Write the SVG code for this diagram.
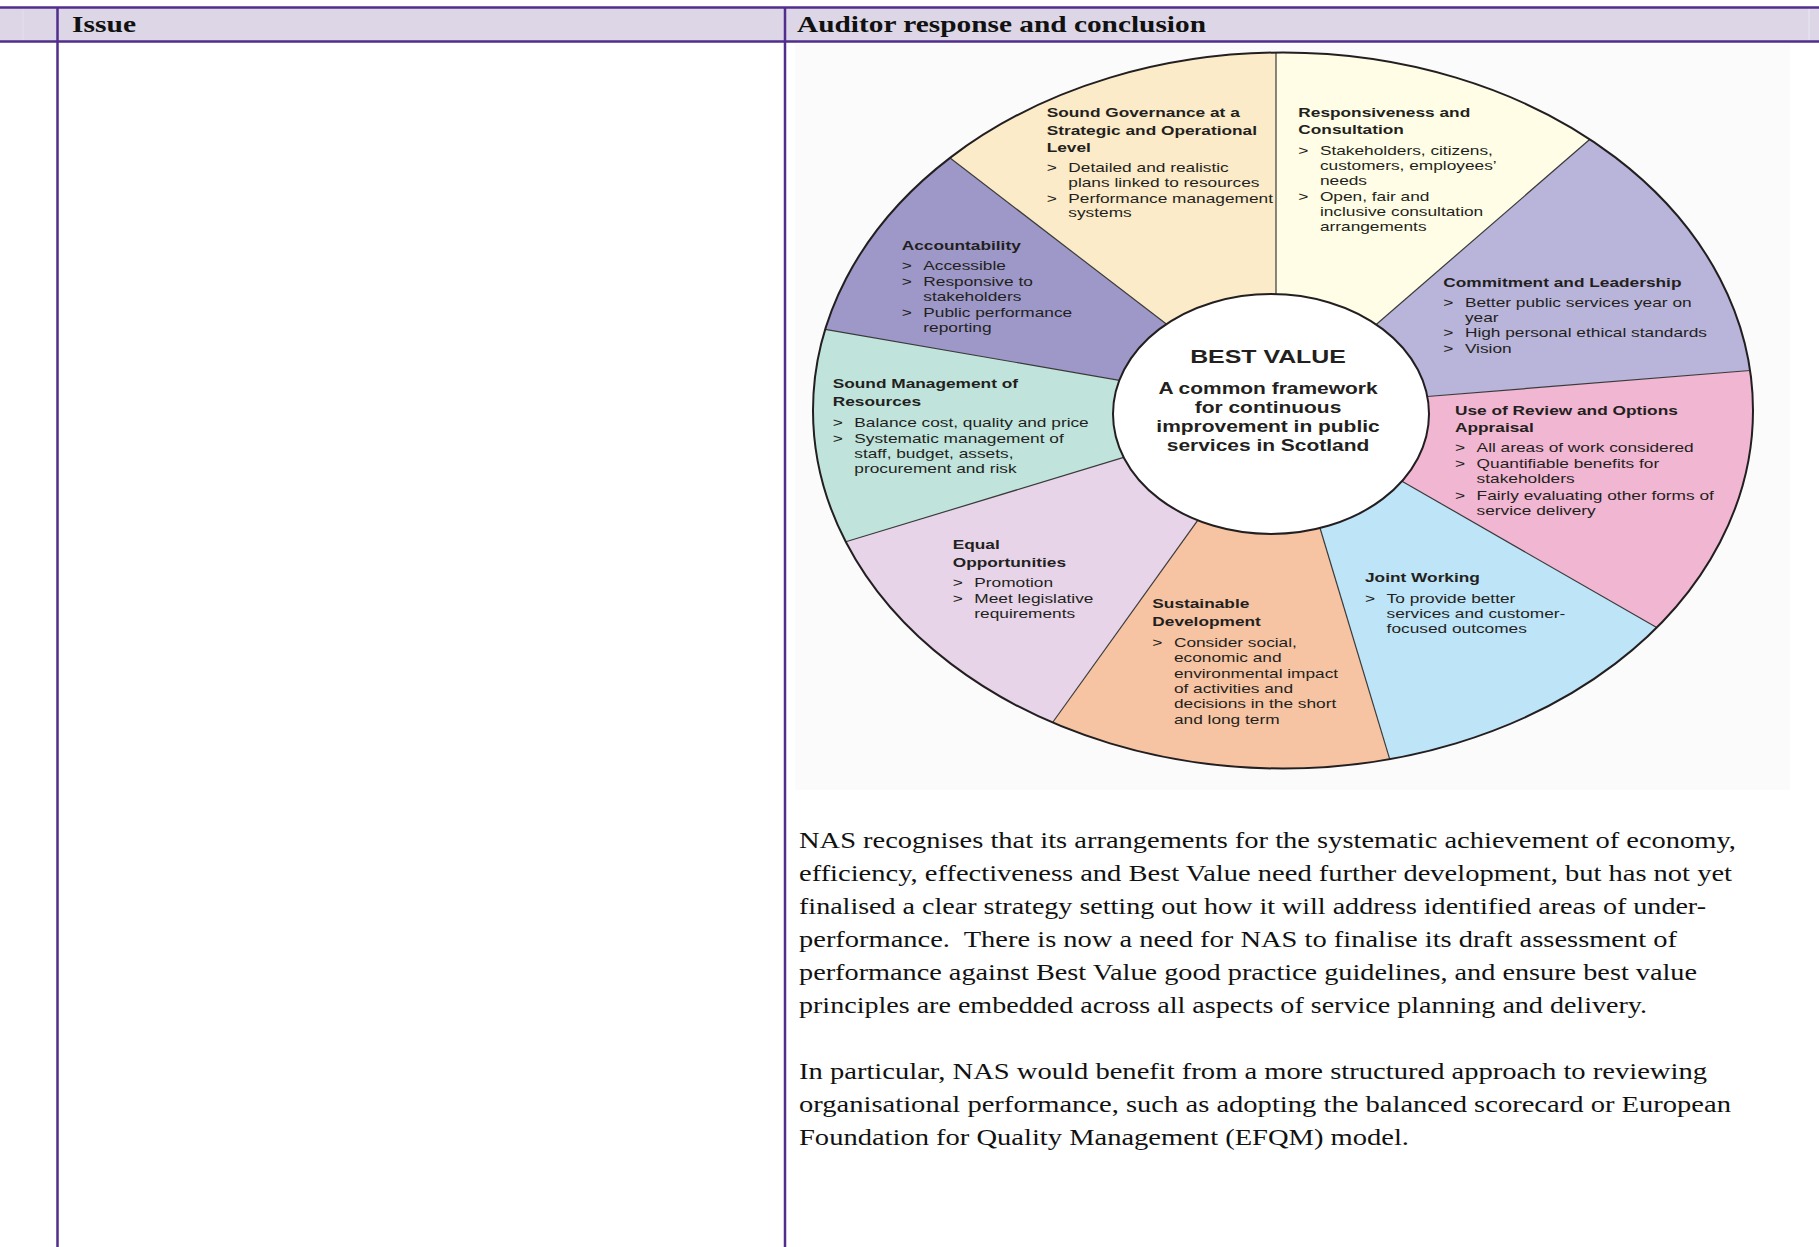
<svg xmlns="http://www.w3.org/2000/svg" width="1819" height="1247" viewBox="0 0 1819 1247">
<style>
.hdr{font-family:"Liberation Serif",serif;font-weight:bold;font-size:23px;fill:#111}
.body{font-family:"Liberation Serif",serif;font-size:24px;fill:#111}
.wt{font-family:"Liberation Sans",Arial,sans-serif;font-size:13.2px;fill:#231f20}
.wt .t{font-weight:bold}
.ctr{font-family:"Liberation Sans",Arial,sans-serif;font-weight:bold;fill:#231f20;text-anchor:middle}
.spoke{stroke:#3a3a3a;stroke-width:1.2;fill:none}
.tl{stroke:#512d8c;fill:none}
</style>
<rect x="0" y="0" width="1819" height="1247" fill="#ffffff"/>
<g id="table">
<rect x="0" y="7" width="1819" height="34" fill="#dcd6e7"/>
<line x1="23" y1="8" x2="23" y2="40" stroke="#e4dfed" stroke-width="1"/>
<line x1="1809" y1="8" x2="1809" y2="40" stroke="#ece8f2" stroke-width="1"/>
<rect x="795" y="44" width="995" height="746" fill="#fbfbfb"/>
<line class="tl" x1="0" y1="7.5" x2="1819" y2="7.5" stroke-width="2.5"/>
<line class="tl" x1="0" y1="41.5" x2="1819" y2="41.5" stroke-width="2.5"/>
<line class="tl" x1="57.5" y1="7" x2="57.5" y2="1247" stroke-width="2.5"/>
<line class="tl" x1="785" y1="7" x2="785" y2="1247" stroke-width="2.5"/>
<text class="hdr" x="72" y="32" textLength="64" lengthAdjust="spacingAndGlyphs">Issue</text>
<text class="hdr" x="797" y="32" textLength="409" lengthAdjust="spacingAndGlyphs">Auditor response and conclusion</text>
</g>
<g id="wheel">
<g id="responsiveness"><path d="M1276,294.1 L1276,52.5 A470,358 0 0 1 1589.9,139.3 L1376.2,324.5 A158,120 0 0 0 1276,294.1 Z" fill="#fffde5"/></g>
<g id="commitment"><path d="M1376.2,324.5 L1589.9,139.3 A470,358 0 0 1 1750,370.5 L1427.3,396.5 A158,120 0 0 0 1376.2,324.5 Z" fill="#b9b4da"/></g>
<g id="review"><path d="M1427.3,396.5 L1750,370.5 A470,358 0 0 1 1656.7,627.6 L1402,481.2 A158,120 0 0 0 1427.3,396.5 Z" fill="#f1b6d2"/></g>
<g id="joint"><path d="M1402,481.2 L1656.7,627.6 A470,358 0 0 1 1389.7,759.2 L1320,528 A158,120 0 0 0 1402,481.2 Z" fill="#bee4f8"/></g>
<g id="sustainable"><path d="M1320,528 L1389.7,759.2 A470,358 0 0 1 1052.6,722.5 L1197.7,520.3 A158,120 0 0 0 1320,528 Z" fill="#f7c4a3"/></g>
<g id="equal"><path d="M1197.7,520.3 L1052.6,722.5 A470,358 0 0 1 845.8,541.8 L1123.7,457.4 A158,120 0 0 0 1197.7,520.3 Z" fill="#e7d4e8"/></g>
<g id="soundmgmt"><path d="M1123.7,457.4 L845.8,541.8 A470,358 0 0 1 825.2,329.4 L1119.4,380.3 A158,120 0 0 0 1123.7,457.4 Z" fill="#c0e4dc"/></g>
<g id="accountability"><path d="M1119.4,380.3 L825.2,329.4 A470,358 0 0 1 950.1,158 L1166.3,324.1 A158,120 0 0 0 1119.4,380.3 Z" fill="#9d98c8"/></g>
<g id="governance"><path d="M1166.3,324.1 L950.1,158 A470,358 0 0 1 1276,52.5 L1276,294.1 A158,120 0 0 0 1166.3,324.1 Z" fill="#fcebc9"/></g>
<g id="spokes">
<line class="spoke" x1="1276" y1="294.1" x2="1276" y2="52.5" stroke-width="1.8"/>
<line class="spoke" x1="1376.2" y1="324.5" x2="1589.9" y2="139.3"/>
<line class="spoke" x1="1427.3" y1="396.5" x2="1750" y2="370.5"/>
<line class="spoke" x1="1402" y1="481.2" x2="1656.7" y2="627.6"/>
<line class="spoke" x1="1320" y1="528" x2="1389.7" y2="759.2"/>
<line class="spoke" x1="1197.7" y1="520.3" x2="1052.6" y2="722.5"/>
<line class="spoke" x1="1123.7" y1="457.4" x2="845.8" y2="541.8"/>
<line class="spoke" x1="1119.4" y1="380.3" x2="825.2" y2="329.4"/>
<line class="spoke" x1="1166.3" y1="324.1" x2="950.1" y2="158"/>
</g>
<ellipse cx="1283" cy="410.5" rx="470" ry="358" fill="none" stroke="#231f20" stroke-width="2"/>
<g id="center">
<ellipse cx="1271" cy="414" rx="158" ry="120" fill="#ffffff" stroke="#231f20" stroke-width="2"/>
<text class="ctr" transform="translate(1268,0) scale(1.31,1)" font-size="19"><tspan x="0" y="363.5">BEST VALUE</tspan></text>
<text class="ctr" transform="translate(1268,0) scale(1.31,1)" font-size="16"><tspan x="0" y="394">A common framework</tspan><tspan x="0" y="413.3">for continuous</tspan><tspan x="0" y="432">improvement in public</tspan><tspan x="0" y="451">services in Scotland</tspan></text>
</g>
<g id="labels">
<text class="wt" transform="translate(1046.7,0) scale(1.31,1)"><tspan class="t" x="0" y="117.5">Sound Governance at a</tspan><tspan class="t" x="0" y="134.8">Strategic and Operational</tspan><tspan class="t" x="0" y="152">Level</tspan><tspan x="0" y="172.5">&gt;</tspan><tspan x="16.5" y="172.5">Detailed and realistic</tspan><tspan x="16.5" y="187.5">plans linked to resources</tspan><tspan x="0" y="203">&gt;</tspan><tspan x="16.5" y="203">Performance management</tspan><tspan x="16.5" y="217.5">systems</tspan></text>
<text class="wt" transform="translate(1298.3,0) scale(1.31,1)"><tspan class="t" x="0" y="116.7">Responsiveness and</tspan><tspan class="t" x="0" y="134">Consultation</tspan><tspan x="0" y="155">&gt;</tspan><tspan x="16.5" y="155">Stakeholders, citizens,</tspan><tspan x="16.5" y="170">customers, employees’</tspan><tspan x="16.5" y="185">needs</tspan><tspan x="0" y="201.5">&gt;</tspan><tspan x="16.5" y="201.5">Open, fair and</tspan><tspan x="16.5" y="216.5">inclusive consultation</tspan><tspan x="16.5" y="231.5">arrangements</tspan></text>
<text class="wt" transform="translate(1443.3,0) scale(1.31,1)"><tspan class="t" x="0" y="286.7">Commitment and Leadership</tspan><tspan x="0" y="306.7">&gt;</tspan><tspan x="16.5" y="306.7">Better public services year on</tspan><tspan x="16.5" y="322">year</tspan><tspan x="0" y="337.5">&gt;</tspan><tspan x="16.5" y="337.5">High personal ethical standards</tspan><tspan x="0" y="353">&gt;</tspan><tspan x="16.5" y="353">Vision</tspan></text>
<text class="wt" transform="translate(1455,0) scale(1.31,1)"><tspan class="t" x="0" y="415">Use of Review and Options</tspan><tspan class="t" x="0" y="431.7">Appraisal</tspan><tspan x="0" y="451.7">&gt;</tspan><tspan x="16.5" y="451.7">All areas of work considered</tspan><tspan x="0" y="468">&gt;</tspan><tspan x="16.5" y="468">Quantifiable benefits for</tspan><tspan x="16.5" y="483.3">stakeholders</tspan><tspan x="0" y="500">&gt;</tspan><tspan x="16.5" y="500">Fairly evaluating other forms of</tspan><tspan x="16.5" y="515">service delivery</tspan></text>
<text class="wt" transform="translate(1365,0) scale(1.31,1)"><tspan class="t" x="0" y="581.7">Joint Working</tspan><tspan x="0" y="602.7">&gt;</tspan><tspan x="16.5" y="602.7">To provide better</tspan><tspan x="16.5" y="618">services and customer-</tspan><tspan x="16.5" y="633.3">focused outcomes</tspan></text>
<text class="wt" transform="translate(952.7,0) scale(1.31,1)"><tspan class="t" x="0" y="549.3">Equal</tspan><tspan class="t" x="0" y="566.7">Opportunities</tspan><tspan x="0" y="587.3">&gt;</tspan><tspan x="16.5" y="587.3">Promotion</tspan><tspan x="0" y="603.3">&gt;</tspan><tspan x="16.5" y="603.3">Meet legislative</tspan><tspan x="16.5" y="618.3">requirements</tspan></text>
<text class="wt" transform="translate(1152.3,0) scale(1.31,1)"><tspan class="t" x="0" y="608.3">Sustainable</tspan><tspan class="t" x="0" y="626">Development</tspan><tspan x="0" y="646.7">&gt;</tspan><tspan x="16.5" y="646.7">Consider social,</tspan><tspan x="16.5" y="662.3">economic and</tspan><tspan x="16.5" y="678">environmental impact</tspan><tspan x="16.5" y="693.3">of activities and</tspan><tspan x="16.5" y="708.5">decisions in the short</tspan><tspan x="16.5" y="724">and long term</tspan></text>
<text class="wt" transform="translate(901.7,0) scale(1.31,1)"><tspan class="t" x="0" y="250">Accountability</tspan><tspan x="0" y="270">&gt;</tspan><tspan x="16.5" y="270">Accessible</tspan><tspan x="0" y="285.7">&gt;</tspan><tspan x="16.5" y="285.7">Responsive to</tspan><tspan x="16.5" y="301.5">stakeholders</tspan><tspan x="0" y="316.7">&gt;</tspan><tspan x="16.5" y="316.7">Public performance</tspan><tspan x="16.5" y="332.5">reporting</tspan></text>
<text class="wt" transform="translate(832.7,0) scale(1.31,1)"><tspan class="t" x="0" y="388.3">Sound Management of</tspan><tspan class="t" x="0" y="406">Resources</tspan><tspan x="0" y="426.7">&gt;</tspan><tspan x="16.5" y="426.7">Balance cost, quality and price</tspan><tspan x="0" y="442.7">&gt;</tspan><tspan x="16.5" y="442.7">Systematic management of</tspan><tspan x="16.5" y="458.3">staff, budget, assets,</tspan><tspan x="16.5" y="473.3">procurement and risk</tspan></text>
</g>
</g>
<g id="conclusion">
<text class="body" x="799" y="848" textLength="937" lengthAdjust="spacingAndGlyphs">NAS recognises that its arrangements for the systematic achievement of economy,</text>
<text class="body" x="799" y="881" textLength="933" lengthAdjust="spacingAndGlyphs">efficiency, effectiveness and Best Value need further development, but has not yet</text>
<text class="body" x="799" y="914" textLength="907" lengthAdjust="spacingAndGlyphs">finalised a clear strategy setting out how it will address identified areas of under-</text>
<text class="body" x="799" y="947" textLength="878" lengthAdjust="spacingAndGlyphs" xml:space="preserve">performance.  There is now a need for NAS to finalise its draft assessment of</text>
<text class="body" x="799" y="980" textLength="898" lengthAdjust="spacingAndGlyphs">performance against Best Value good practice guidelines, and ensure best value</text>
<text class="body" x="799" y="1013" textLength="848" lengthAdjust="spacingAndGlyphs">principles are embedded across all aspects of service planning and delivery.</text>
<text class="body" x="799" y="1079" textLength="908" lengthAdjust="spacingAndGlyphs">In particular, NAS would benefit from a more structured approach to reviewing</text>
<text class="body" x="799" y="1112" textLength="932" lengthAdjust="spacingAndGlyphs">organisational performance, such as adopting the balanced scorecard or European</text>
<text class="body" x="799" y="1145" textLength="610" lengthAdjust="spacingAndGlyphs">Foundation for Quality Management (EFQM) model.</text>
</g>
</svg>
